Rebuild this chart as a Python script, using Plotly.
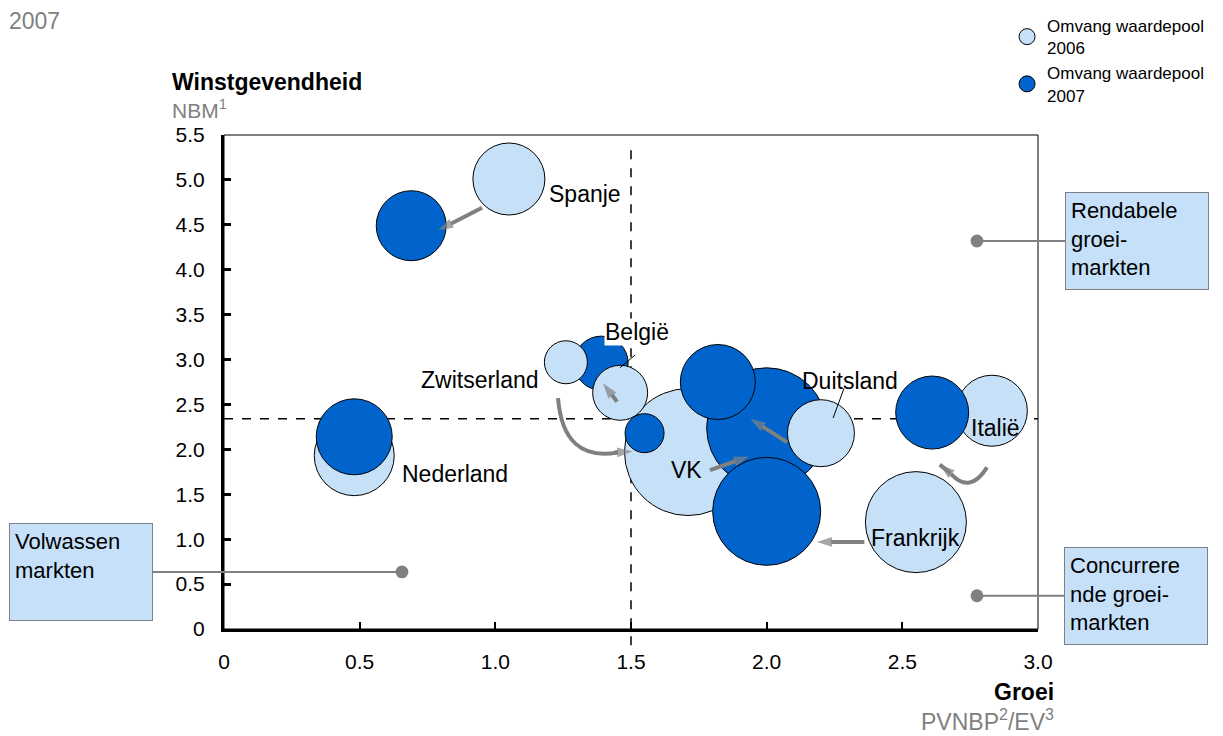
import plotly.graph_objects as go

# ---------------- data ----------------
landen = ["Spanje", "Nederland", "België", "Zwitserland", "VK", "Duitsland", "Frankrijk", "Italië"]
groei_2006 = [1.05, 0.48, 1.46, 1.26, 1.71, 2.20, 2.55, 2.83]
nbm_2006 = [5.01, 1.93, 2.63, 2.97, 1.97, 2.18, 1.19, 2.43]
omvang_2006 = [72, 80, 55, 43, 127, 67, 101, 71]
groei_2007 = [0.69, 0.48, 1.39, 1.55, 2.00, 1.82, 2.00, 2.61]
nbm_2007 = [4.49, 2.14, 2.96, 2.18, 2.24, 2.75, 1.31, 2.41]
omvang_2007 = [70, 76, 54, 39, 120, 75, 108, 73]

x_ticks = [0, 0.5, 1.0, 1.5, 2.0, 2.5, 3.0]
x_ticktext = ["0", "0.5", "1.0", "1.5", "2.0", "2.5", "3.0"]
y_ticks = [0, 0.5, 1.0, 1.5, 2.0, 2.5, 3.0, 3.5, 4.0, 4.5, 5.0, 5.5]
y_ticktext = ["0", "0.5", "1.0", "1.5", "2.0", "2.5", "3.0", "3.5", "4.0", "4.5", "5.0", "5.5"]

grens_groei = 1.5
grens_nbm = 2.34

# ---------------- styles ----------------
LIGHT = "#c6e0f8"
DARK = "#0064cc"
GREY = "#808080"
FONT = "Liberation Sans, Arial, sans-serif"

series = {
    "2006": dict(x=groei_2006, y=nbm_2006, s=omvang_2006, color=LIGHT, name="Omvang waardepool<br>2006"),
    "2007": dict(x=groei_2007, y=nbm_2007, s=omvang_2007, color=DARK, name="Omvang waardepool<br>2007"),
}

# drawing order (back to front) to reproduce overlaps
draw_order = [
    ("2006", "VK"), ("2007", "VK"), ("2007", "België"), ("2006", "Zwitserland"),
    ("2006", "België"), ("2007", "Zwitserland"), ("2007", "Duitsland"), ("2006", "Duitsland"),
    ("2007", "Frankrijk"), ("2006", "Frankrijk"), ("2006", "Italië"), ("2007", "Italië"),
    ("2006", "Spanje"), ("2007", "Spanje"), ("2006", "Nederland"), ("2007", "Nederland"),
]

fig = go.Figure()
shown = set()
for jaar, land in draw_order:
    s = series[jaar]
    i = landen.index(land)
    fig.add_trace(go.Scatter(
        x=[s["x"][i]], y=[s["y"][i]], mode="markers",
        marker=dict(size=[s["s"][i]], sizemode="diameter", sizeref=1, color=s["color"],
                    line=dict(color="black", width=1), opacity=1),
        name=s["name"], legendgroup=jaar, showlegend=jaar not in shown,
        legendrank=1 if jaar == "2006" else 2,
        cliponaxis=False, hoverinfo="text", text=[f"{land} {jaar}"],
    ))
    shown.add(jaar)

# movement arrows (tail -> tip)
pijlen = [
    (0.951, 4.69, 0.789, 4.44),   # Spanje
    (1.449, 2.53, 1.397, 2.735),  # België
    (1.791, 1.77, 1.935, 1.92),   # VK
    (2.075, 2.08, 1.94, 2.34),    # Duitsland
    (2.36, 0.97, 2.185, 0.97),    # Frankrijk
    (1.44, 1.965, 1.505, 1.975),  # Zwitserland (end of curve)
    (2.678, 1.733, 2.638, 1.83),  # Italië (end of curve)
]
for x0, y0, x1, y1 in pijlen:
    fig.add_trace(go.Scatter(
        x=[x0, x1], y=[y0, y1], mode="lines+markers", showlegend=False, hoverinfo="skip",
        line=dict(color=GREY, width=4),
        marker=dict(symbol=["circle", "arrow"], size=[0, 16], color=GREY, angleref="previous",
                    standoff=0, line=dict(width=0)),
        cliponaxis=False,
    ))

shapes = [
    # frame (thin top/right)
    dict(type="rect", xref="paper", yref="paper", x0=0, x1=1, y0=0, y1=1,
         line=dict(color="black", width=1), layer="below"),
    # threshold lines
    dict(type="line", xref="x", yref="y", x0=0, x1=3, y0=grens_nbm, y1=grens_nbm,
         line=dict(color="black", width=1.5, dash="dash"), layer="below"),
    dict(type="line", xref="x", yref="paper", x0=grens_groei, x1=grens_groei, y0=-0.033, y1=0.975,
         line=dict(color="black", width=1.5, dash="dash"), layer="below"),
    # label leader lines
    dict(type="line", xref="x", yref="y", x0=1.515, y0=3.05, x1=1.46, y1=2.91,
         line=dict(color="black", width=1)),
    dict(type="line", xref="x", yref="y", x0=2.285, y0=2.68, x1=2.245, y1=2.35,
         line=dict(color="black", width=1)),
    # curved arrows
    dict(type="path", xref="x", yref="y", path="M 1.231 2.57 Q 1.25 1.86 1.45 1.965",
         line=dict(color=GREY, width=4)),
    dict(type="path", xref="x", yref="y", path="M 2.812 1.80 Q 2.75 1.50 2.68 1.725",
         line=dict(color=GREY, width=4)),
]

annotations = []

labels = {
    "Spanje": (1.33, 4.84), "België": (1.522, 3.31), "Zwitserland": (0.944, 2.77),
    "Nederland": (0.851, 1.73), "VK": (1.703, 1.77), "Duitsland": (2.307, 2.76),
    "Italië": (2.842, 2.24), "Frankrijk": (2.55, 1.01),
}
for land, (lx, ly) in labels.items():
    annotations.append(dict(x=lx, y=ly, xref="x", yref="y", text=land, showarrow=False,
                            font=dict(size=23, color="black", family=FONT),
                            bgcolor="white" if land == "België" else None, borderpad=0))

def box(text, x, y, ax):
    annotations.append(dict(x=x, y=y, xref="x", yref="y", text=text, showarrow=True,
                            ax=ax, ay=0, arrowhead=6, arrowsize=1.6, arrowwidth=2, arrowcolor=GREY,
                            standoff=0, align="left", valign="top", width=132, height=86,
                            bgcolor="#c6e0fa", bordercolor=GREY, borderwidth=1, borderpad=5,
                            font=dict(size=22, color="black", family=FONT)))

box("Rendabele<br>groei-<br>markten", 2.775, 4.32, 160)
box("Concurrere<br>nde groei-<br>markten", 2.775, 0.37, 159)
box("Volwassen<br>markten", 0.656, 0.635, -321)

# titles
def txt(text, x, y, xanchor, size, color, bold=False):
    annotations.append(dict(x=x, y=y, xref="paper", yref="paper", text=f"<b>{text}</b>" if bold else text,
                            showarrow=False, xanchor=xanchor, yanchor="middle",
                            font=dict(size=size, color=color, family=FONT)))

txt("2007", -0.267, 1.23, "left", 23, GREY)
txt("Winstgevendheid", -0.066, 1.108, "left", 23, "black", bold=True)
txt("NBM<sup>1</sup>", -0.066, 1.052, "left", 21, GREY)
txt("Groei", 1.022, -0.127, "right", 23, "black", bold=True)
txt("PVNBP<sup>2</sup>/EV<sup>3</sup>", 1.022, -0.184, "right", 23, GREY)

# the page body adds an 8px margin, so the figure is 8px smaller than the window
fig.update_layout(
    width=1215, height=728,
    margin=dict(l=216, r=185, t=127, b=107, autoexpand=False),
    paper_bgcolor="white", plot_bgcolor="white",
    font=dict(family=FONT, size=21, color="black"),
    showlegend=True,
    legend=dict(x=0.962, y=1.257, xanchor="left", yanchor="top",
                font=dict(size=17, color="black", family=FONT),
                itemsizing="trace", tracegroupgap=0, bgcolor="rgba(0,0,0,0)"),
    shapes=shapes, annotations=annotations,
    xaxis=dict(range=[0, 3], tickvals=x_ticks, ticktext=x_ticktext, showgrid=False, zeroline=False,
               showline=True, linecolor="black", linewidth=3, ticks="inside", ticklen=7, tickwidth=2,
               tickcolor="black", ticklabelstandoff=12, tickfont=dict(size=21)),
    yaxis=dict(range=[0, 5.5], tickvals=y_ticks, ticktext=y_ticktext, showgrid=False, zeroline=False,
               showline=True, linecolor="black", linewidth=3, ticks="inside", ticklen=7, tickwidth=3,
               tickcolor="black", ticklabelstandoff=12, tickfont=dict(size=21)),
)

fig.write_html("out.html")
